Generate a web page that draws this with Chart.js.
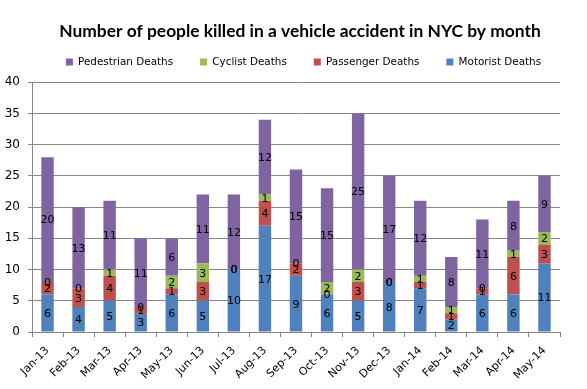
<!DOCTYPE html>
<html>
<head>
<meta charset="utf-8">
<script src="https://cdn.jsdelivr.net/npm/chart.js@4"></script>
<style>
  body { margin: 0; background: #fff; }
  #wrap { width: 587px; height: 389px; }
</style>
</head>
<body>
<div id="wrap"><canvas id="deaths_chart"></canvas></div>
<script>
const months = ["Jan-13", "Feb-13", "Mar-13", "Apr-13", "May-13", "Jun-13", "Jul-13", "Aug-13", "Sep-13",
  "Oct-13", "Nov-13", "Dec-13", "Jan-14", "Feb-14", "Mar-14", "Apr-14", "May-14"];
const motorist   = [6, 4, 5, 3, 6, 5, 10, 17, 9, 6, 5, 8, 7, 2, 6, 6, 11];
const passenger  = [2, 3, 4, 1, 1, 3, 0, 4, 2, 0, 3, 0, 1, 1, 1, 6, 3];
const cyclist    = [0, 0, 1, 0, 2, 3, 0, 1, 0, 2, 2, 0, 1, 1, 0, 1, 2];
const pedestrian = [20, 13, 11, 11, 6, 11, 12, 12, 15, 15, 25, 17, 12, 8, 11, 8, 9];
const yTicks = [0, 5, 10, 15, 20, 25, 30, 35, 40];

const tickFont = "'DejaVu Sans', sans-serif";

// write the value in the middle of every stack piece, zeros too
const segmentLabels = {
  id: "segmentLabels",
  afterDatasetsDraw(chart) {
    const ctx = chart.ctx;
    ctx.save();
    ctx.font = "11px " + tickFont;
    ctx.fillStyle = "#000";
    ctx.textAlign = "center";
    ctx.textBaseline = "middle";
    chart.data.datasets.forEach(function (ds, i) {
      const meta = chart.getDatasetMeta(i);
      meta.data.forEach(function (bar, j) {
        const p = bar.getProps(["x", "y", "base"], true);
        ctx.fillText(String(ds.data[j]), p.x, (p.y + p.base) / 2 + 1);
      });
    });
    ctx.restore();
  }
};

// more room under the legend row, and title/legend centred on the whole picture
const headerFix = {
  id: "headerFix",
  beforeInit(chart) {
    const fit = chart.legend.fit;
    chart.legend.fit = function () {
      fit.call(this);
      this.height += 5;
    };
  },
  afterLayout(chart) {
    chart.titleBlock.left = 13;
    chart.titleBlock.right = chart.width;
    chart.legend.left = 20;
    chart.legend.right = chart.width;
  }
};

const ctx = document.getElementById("deaths_chart").getContext("2d");
new Chart(ctx, {
  type: "bar",
  data: {
    labels: months,
    datasets: [
      { label: "Motorist Deaths", data: motorist, backgroundColor: "#4F81BD" },
      { label: "Passenger Deaths", data: passenger, backgroundColor: "#C0504D" },
      { label: "Cyclist Deaths", data: cyclist, backgroundColor: "#9BBB59" },
      { label: "Pedestrian Deaths", data: pedestrian, backgroundColor: "#8064A2" }
    ]
  },
  options: {
    responsive: true,
    maintainAspectRatio: false,
    animation: false,
    layout: { padding: { left: 4, right: 27, top: 0, bottom: 2 } },
    datasets: { bar: { categoryPercentage: 1, barPercentage: 0.4 } },
    plugins: {
      title: {
        display: true,
        text: "Number of people killed in a vehicle accident in NYC by month",
        color: "#000",
        font: { family: "Lato, sans-serif", size: 17.4, weight: "bold" },
        padding: { top: 20.5, bottom: -11.6 }
      },
      legend: {
        reverse: true,
        labels: {
          color: "#000",
          font: { family: tickFont, size: 10.4 },
          boxWidth: 7,
          boxHeight: 7,
          padding: 27
        }
      },
      tooltip: { enabled: false }
    },
    scales: {
      x: {
        stacked: true,
        afterFit(axis) { axis.height = 55; },
        grid: { offset: true, drawOnChartArea: false, color: "#868686", tickLength: 5 },
        border: { color: "#868686" },
        ticks: { color: "#000", font: { family: tickFont, size: 11 }, minRotation: 45, maxRotation: 45, padding: 7 }
      },
      y: {
        stacked: true,
        min: 0,
        max: 40,
        afterBuildTicks(axis) { axis.ticks = yTicks.map(function (v) { return { value: v }; }); },
        afterFit(axis) { axis.width = 28; },
        grid: { color: "#868686", tickLength: 4 },
        border: { color: "#868686" },
        ticks: { color: "#000", font: { family: tickFont, size: 12 }, padding: 8 }
      }
    }
  },
  plugins: [segmentLabels, headerFix]
});
</script>
</body>
</html>
